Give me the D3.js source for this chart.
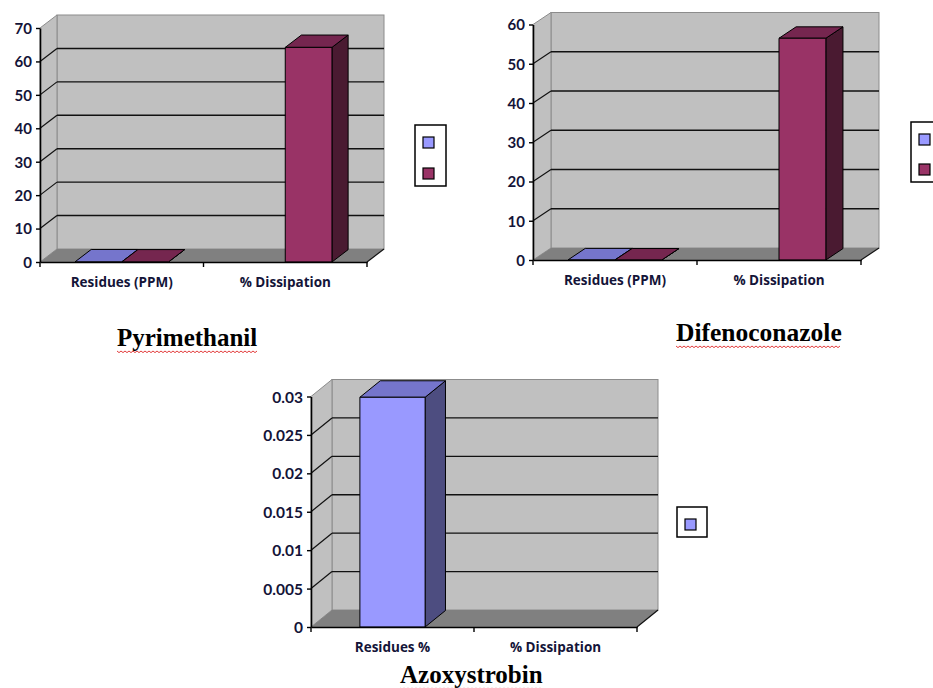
<!DOCTYPE html>
<html>
<head>
<meta charset="utf-8">
<script src="https://cdn.jsdelivr.net/npm/d3@7"></script>
<style>
  html, body { margin: 0; padding: 0; background: #ffffff; }
  svg { display: block; }
</style>
</head>
<body>
<svg id="chart" width="933" height="688"></svg>
<script>
// ---------- data ----------
const categoriesPPM = ["Residues (PPM)", "% Dissipation"];
const categoriesPct = ["Residues %", "% Dissipation"];

const pyrSeries1 = [0.05, null];
const pyrSeries2 = [0.02, 64.2];
const pyrTicks = [0, 10, 20, 30, 40, 50, 60, 70];
const pyrTickLabels = ["0", "10", "20", "30", "40", "50", "60", "70"];

const difSeries1 = [0.05, null];
const difSeries2 = [0.02, 56.5];
const difTicks = [0, 10, 20, 30, 40, 50, 60];
const difTickLabels = ["0", "10", "20", "30", "40", "50", "60"];

const azoSeries1 = [0.0299, null];
const azoTicks = [0, 0.005, 0.01, 0.015, 0.02, 0.025, 0.03];
const azoTickLabels = ["0", "0.005", "0.01", "0.015", "0.02", "0.025", "0.03"];

const titles = ["Pyrimethanil", "Difenoconazole", "Azoxystrobin"];

// ---------- styles ----------
const seriesColors = [
  { front: "#9999ff", top: "#7575cc", side: "#4d4d80" },
  { front: "#993366", top: "#75264f", side: "#4a1a31" }
];
const wallFill = "#c0c0c0";
const wallStroke = "#8c8c8c";
const floorFill = "#808080";
const textColor = "#141438";
const tickFontFamily = "Lato, 'Open Sans', sans-serif";
const catFontFamily = "'Open Sans', Lato, sans-serif";
const serifFont = "'Liberation Serif', 'DejaVu Serif', serif";

const svg = d3.select("#chart");

function drawChart(cfg) {
  const g = svg.append("g");
  const { x0, x1, y0, yTop, dx, dy } = cfg;
  const yMax = cfg.ticks[cfg.ticks.length - 1];
  const y = d3.scaleLinear().domain([0, yMax]).range([y0, yTop]);
  const x = d3.scaleBand().domain(cfg.categories).range([x0, x1]).paddingInner(0).paddingOuter(0);
  const seriesIdx = cfg.series.map((s, i) => i);
  const xs = d3.scaleBand().domain(seriesIdx).range([0, x.bandwidth()]).paddingInner(0).paddingOuter(0.75);

  const pt = (a, b) => a + "," + b;

  // back wall
  g.append("rect")
    .attr("x", x0 + dx).attr("y", yTop + dy)
    .attr("width", x1 - x0).attr("height", y0 - yTop)
    .attr("fill", wallFill).attr("stroke", wallStroke).attr("stroke-width", 1);
  // side wall
  g.append("polygon")
    .attr("points", [pt(x0, yTop), pt(x0 + dx, yTop + dy), pt(x0 + dx, y0 + dy), pt(x0, y0)].join(" "))
    .attr("fill", wallFill).attr("stroke", wallStroke).attr("stroke-width", 1);

  // gridlines
  const inner = cfg.ticks.filter(t => t > 0 && t < yMax);
  g.selectAll(".grid").data(inner).enter().append("line")
    .attr("x1", x0 + dx).attr("x2", x1 + dx)
    .attr("y1", d => y(d) + dy).attr("y2", d => y(d) + dy)
    .attr("stroke", "#111").attr("stroke-width", 1.4);
  g.selectAll(".sgrid").data(inner).enter().append("line")
    .attr("x1", x0).attr("x2", x0 + dx)
    .attr("y1", d => y(d)).attr("y2", d => y(d) + dy)
    .attr("stroke", "#111").attr("stroke-width", 1.2);

  // floor
  g.append("polygon")
    .attr("points", [pt(x0, y0), pt(x1, y0), pt(x1 + dx, y0 + dy), pt(x0 + dx, y0 + dy)].join(" "))
    .attr("fill", floorFill);
  g.append("line")
    .attr("x1", x1).attr("y1", y0).attr("x2", x1 + dx).attr("y2", y0 + dy)
    .attr("stroke", "#111").attr("stroke-width", 1.2);

  // bars
  const bd = cfg.barDepth;
  cfg.series.forEach((vals, si) => {
    const col = seriesColors[si];
    vals.forEach((v, ci) => {
      if (v === null) return;
      const xa = x(cfg.categories[ci]) + xs(si);
      const xb = xa + xs.bandwidth();
      const yv = y(v);
      const bdx = dx * bd, bdy = dy * bd;
      const bg = g.append("g").attr("stroke", "#000").attr("stroke-width", 1).attr("stroke-linejoin", "round");
      bg.append("polygon")
        .attr("points", [pt(xb, yv), pt(xb + bdx, yv + bdy), pt(xb + bdx, y0 + bdy), pt(xb, y0)].join(" "))
        .attr("fill", col.side);
      bg.append("polygon")
        .attr("points", [pt(xa, yv), pt(xb, yv), pt(xb + bdx, yv + bdy), pt(xa + bdx, yv + bdy)].join(" "))
        .attr("fill", col.top);
      if (y0 - yv > 0.8) {
        bg.append("rect")
          .attr("x", xa).attr("y", yv).attr("width", xb - xa).attr("height", y0 - yv)
          .attr("fill", col.front);
      }
    });
  });

  // y axis
  const yAxis = d3.axisLeft(y).tickValues(cfg.ticks)
    .tickFormat((d, i) => cfg.tickLabels[i]).tickSize(4).tickSizeOuter(0);
  const ya = g.append("g").attr("transform", `translate(${x0},0)`).call(yAxis);
  ya.select(".domain").attr("stroke", "#000").attr("stroke-width", 1.6);
  ya.selectAll(".tick line").attr("stroke", "#000").attr("stroke-width", 1.4);
  ya.selectAll(".tick text")
    .attr("x", -8).attr("dy", "0.36em")
    .attr("fill", textColor).attr("font-family", tickFontFamily)
    .attr("font-weight", "bold").attr("font-size", cfg.tickFont + "px");

  // x axis
  const xAxis = d3.axisBottom(x).tickSize(0).tickFormat(d => d);
  const xa = g.append("g").attr("transform", `translate(0,${y0})`).call(xAxis);
  xa.select(".domain").attr("stroke", "#000").attr("stroke-width", 1.6);
  xa.selectAll(".tick text")
    .attr("y", cfg.catLabelDy).attr("dy", 0)
    .attr("fill", textColor).attr("font-family", catFontFamily)
    .attr("font-weight", "bold").attr("font-size", cfg.catFont + "px");
  // category separator ticks
  const seps = [x0].concat(cfg.categories.map(c => x(c) + x.bandwidth()));
  g.selectAll(".sep").data(seps).enter().append("line")
    .attr("x1", d => d).attr("x2", d => d)
    .attr("y1", y0).attr("y2", y0 + 5)
    .attr("stroke", "#000").attr("stroke-width", 1.4);

  // legend
  const L = cfg.legend;
  g.append("rect")
    .attr("x", L.x).attr("y", L.y).attr("width", L.w).attr("height", L.h)
    .attr("fill", "#fff").attr("stroke", "#000").attr("stroke-width", 1.5);
  cfg.series.forEach((s, si) => {
    g.append("rect")
      .attr("x", L.sx).attr("y", L.sy + si * L.step)
      .attr("width", L.size).attr("height", L.size)
      .attr("fill", seriesColors[si].front).attr("stroke", "#000").attr("stroke-width", 1.2);
  });

  // title with wavy spell-check underline
  const T = cfg.title;
  const tt = svg.append("text")
    .attr("x", T.x).attr("y", T.y)
    .attr("font-family", serifFont).attr("font-weight", "bold")
    .attr("font-size", T.size + "px").attr("fill", "#000")
    .text(T.text);
  const w = tt.node().getComputedTextLength();
  const wy = T.y + 5;
  const pts = [];
  for (let px = 0; px <= w; px += 2) pts.push([T.x + px, wy + ((px / 2) % 2 === 0 ? 0 : 1.6)]);
  svg.append("path")
    .attr("d", d3.line()(pts))
    .attr("fill", "none").attr("stroke", "#e23b3b").attr("stroke-width", 1);
}

drawChart({
  categories: categoriesPPM,
  series: [pyrSeries1, pyrSeries2],
  ticks: pyrTicks, tickLabels: pyrTickLabels,
  x0: 40, x1: 367, y0: 262, yTop: 28, dx: 17, dy: -13, barDepth: 0.95,
  tickFont: 15, catFont: 13.5, catLabelDy: 25,
  legend: { x: 415, y: 125, w: 31, h: 61, sx: 423, sy: 137, step: 31, size: 11 },
  title: { text: titles[0], x: 117, y: 346, size: 25 }
});

drawChart({
  categories: categoriesPPM,
  series: [difSeries1, difSeries2],
  ticks: difTicks, tickLabels: difTickLabels,
  x0: 533, x1: 861, y0: 260, yTop: 24.5, dx: 18, dy: -12, barDepth: 0.95,
  tickFont: 15, catFont: 13.5, catLabelDy: 25,
  legend: { x: 911, y: 122, w: 31, h: 60, sx: 919, sy: 134, step: 30, size: 11 },
  title: { text: titles[1], x: 676, y: 341, size: 25.5 }
});

drawChart({
  categories: categoriesPct,
  series: [azoSeries1],
  ticks: azoTicks, tickLabels: azoTickLabels,
  x0: 311, x1: 637, y0: 627, yTop: 396.5, dx: 21, dy: -17, barDepth: 0.97,
  tickFont: 15.5, catFont: 13.5, catLabelDy: 25,
  legend: { x: 677, y: 507, w: 30, h: 30, sx: 685, sy: 519, step: 30, size: 11 },
  title: { text: titles[2], x: 400, y: 683, size: 25 }
});
</script>
</body>
</html>
